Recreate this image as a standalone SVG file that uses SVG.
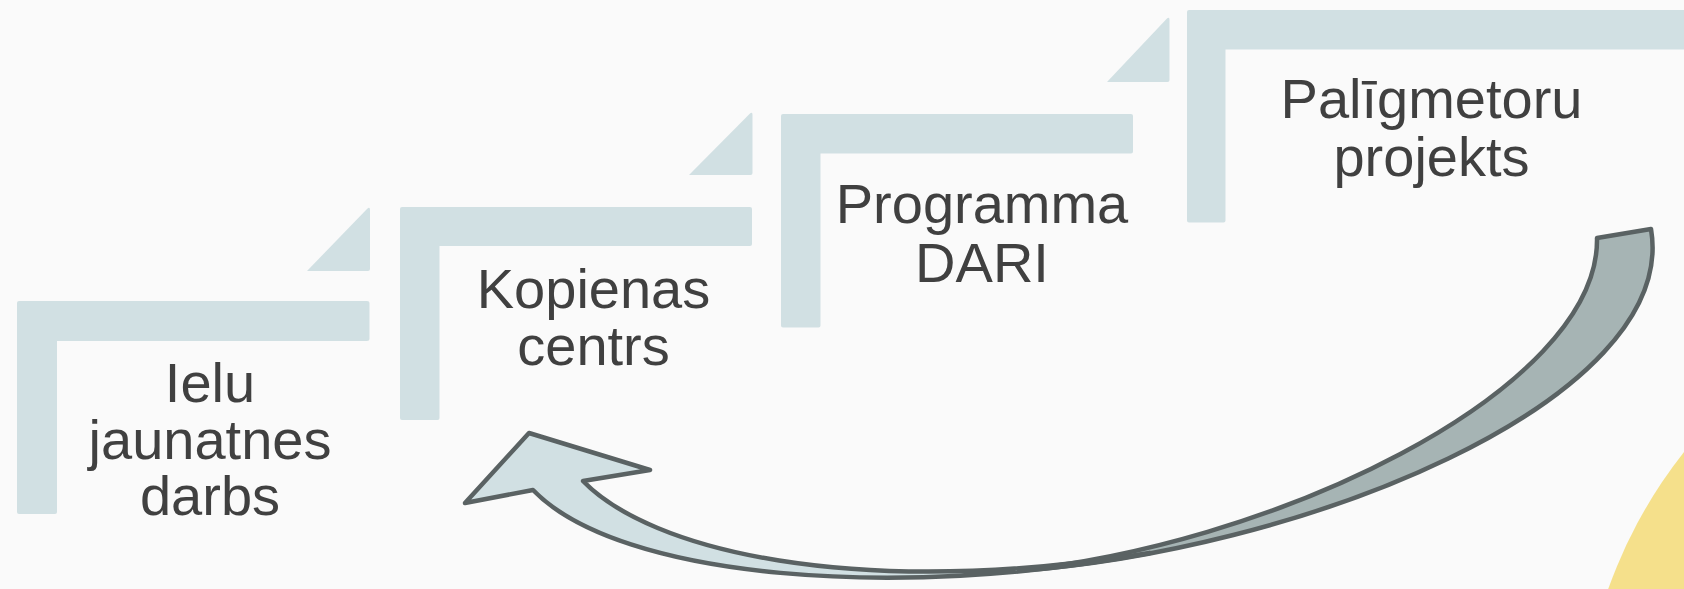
<svg xmlns="http://www.w3.org/2000/svg" width="1684" height="589" viewBox="0 0 1684 589">
<defs>
<style>
.bar{fill:#d1e0e3}
.lbl{font-family:"Liberation Sans",Arial,sans-serif;font-size:56px;fill:#404040;text-anchor:middle}
.arr{stroke:#5a6263;stroke-width:4.5;stroke-linejoin:round}
</style>
</defs>
<rect x="0" y="0" width="1684" height="589" fill="#fafafa"/>
<circle cx="2065" cy="752" r="485" fill="#f5e08b"/>

<g id="step1">
<path class="bar" d="M19,301 H367 Q369.5,301 369.5,303 V339 Q369.5,341 367,341 H57 V512 Q57,514 55,514 H19 Q17,514 17,512 V303 Q17,301 19,301 Z"/>
<path class="bar" d="M307,271 L367,209 Q370,206 370,210 V269 Q370,271 368,271 Z"/>
<text class="lbl" x="210" y="402">Ielu</text>
<text class="lbl" x="210" y="458.5">jaunatnes</text>
<text class="lbl" x="210" y="515">darbs</text>
</g>

<g id="step2">
<path class="bar" d="M402,207 H750 Q752,207 752,209 V244 Q752,246 750,246 H439.5 V418 Q439.5,420 437.5,420 H402 Q400,420 400,418 V209 Q400,207 402,207 Z"/>
<path class="bar" d="M689,175 L749.5,114 Q752.5,111 752.5,115 V173 Q752.5,175 750.5,175 Z"/>
<text class="lbl" x="593.5" y="307.5">Kopienas</text>
<text class="lbl" x="593.5" y="365">centrs</text>
</g>

<g id="step3">
<path class="bar" d="M783,114 H1131 Q1133,114 1133,116 V151.5 Q1133,153.5 1131,153.5 H820.5 V325.5 Q820.5,327.5 818.5,327.5 H783 Q781,327.5 781,325.5 V116 Q781,114 783,114 Z"/>
<path class="bar" d="M1107,82 L1166.5,19 Q1169.5,16 1169.5,20 V80 Q1169.5,82 1167.5,82 Z"/>
<text class="lbl" x="982" y="222.5">Programma</text>
<text class="lbl" x="982" y="281.5">DARI</text>
</g>

<g id="step4">
<path class="bar" d="M1189,10 H1690 V49.5 H1225.5 V220.5 Q1225.5,222.5 1223.5,222.5 H1189 Q1187,222.5 1187,220.5 V12 Q1187,10 1189,10 Z"/>
<text class="lbl" x="1431.5" y="117.5">Palīgmetoru</text>
<text class="lbl" x="1431.5" y="175.5">projekts</text>
</g>

<g id="connectors">
<path class="arr" fill="#a6b4b4" d="M1597,238 L1651,229 C1680,400 1300,555 1000,572 C1270,550 1600,390 1597,238 Z"/>
<path class="arr" fill="#d1e0e3" d="M465,503 L529,433 L650,470 L583,481 C650,550 850,600 1150,553 C900,600 620,580 533,490 Z"/>
</g>
</svg>
